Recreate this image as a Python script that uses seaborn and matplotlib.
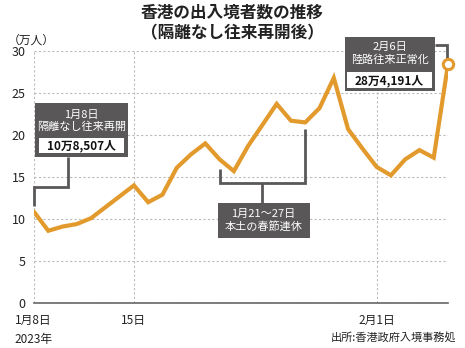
import matplotlib
matplotlib.use("Agg")
import matplotlib.pyplot as plt
import seaborn as sns
import pandas as pd
from matplotlib.patches import Rectangle

# ---- data ----
dates = ["2023-01-08", "2023-01-09", "2023-01-10", "2023-01-11", "2023-01-12",
         "2023-01-13", "2023-01-14", "2023-01-15", "2023-01-16", "2023-01-17",
         "2023-01-18", "2023-01-19", "2023-01-20", "2023-01-21", "2023-01-22",
         "2023-01-23", "2023-01-24", "2023-01-25", "2023-01-26", "2023-01-27",
         "2023-01-28", "2023-01-29", "2023-01-30", "2023-01-31", "2023-02-01",
         "2023-02-02", "2023-02-03", "2023-02-04", "2023-02-05", "2023-02-06"]
values = [10.85, 8.6, 9.1, 9.4, 10.1, 11.4, 12.7, 14.0, 12.0, 12.9,
          16.1, 17.7, 19.0, 17.1, 15.7, 18.7, 21.2, 23.7, 21.7, 21.5,
          23.2, 26.8, 20.7, 18.4, 16.2, 15.2, 17.1, 18.2, 17.3, 28.42]
tick_dates = ["2023-01-08", "2023-01-15", "2023-02-01"]
tick_labels = ["1月8日\n2023年", "15日", "2月1日"]
y_ticks = [0, 5, 10, 15, 20, 25, 30]

title = "香港の出入境者数の推移\n（隔離なし往来再開後）"
unit = "（万人）"
source = "出所:香港政府入境事務処"
ann1 = ("1月8日\n隔離なし往来再開", "10万8,507人")
ann2 = "1月21～27日\n本土の春節連休"
ann3 = ("2月6日\n陸路往来正常化", "28万4,191人")
holiday = ("2023-01-21", "2023-01-27")

# ---- prep ----
start = pd.Timestamp(dates[0])
df = pd.DataFrame({"date": pd.to_datetime(dates), "value": values})
df["day"] = (df["date"] - start).dt.days
tick_pos = [(pd.Timestamp(d) - start).days for d in tick_dates]
h0, h1 = [(pd.Timestamp(d) - start).days for d in holiday]

sns.set_theme(style="white")
plt.rcParams["font.family"] = ["Noto Sans CJK JP", "DejaVu Sans"]

ORANGE = "#E39A2C"
BOX = "#595757"
AX = "#666666"

W, H = 465, 348
fig = plt.figure(figsize=(W / 100, H / 100), dpi=100)
ax = fig.add_axes([34 / W, (H - 303) / H, 414 / W, 252 / H])

sns.lineplot(data=df, x="day", y="value", color=ORANGE, linewidth=3.0,
             ax=ax, zorder=5, solid_joinstyle="miter")
last = df.iloc[[-1]]
sns.scatterplot(data=last, x="day", y="value", s=55, facecolor="white",
                edgecolor=ORANGE, linewidth=2.2, ax=ax, zorder=7, clip_on=False)

ax.set_xlim(0, 29)
ax.set_ylim(0, 30)
ax.set_xticks(tick_pos)
ax.set_xticklabels(tick_labels, fontsize=8.5, multialignment="left", linespacing=1.55)
ax.set_yticks(y_ticks)
ax.set_yticklabels([str(v) for v in y_ticks], fontsize=9)
ax.set_xlabel("")
ax.set_ylabel("")
ax.tick_params(axis="x", length=0, pad=8, colors="#222222")
ax.tick_params(axis="y", length=4, width=1, color=AX, pad=2, colors="#222222")
ax.tick_params(axis="y", labelcolor="#222222")
for s in ["top", "right", "left"]:
    ax.spines[s].set_visible(False)
ax.spines["bottom"].set_color(AX)
ax.spines["bottom"].set_linewidth(1.2)
ax.grid(True, axis="both", color="#bbbbbb", linestyle=(0, (2, 2)), linewidth=0.8)
ax.set_axisbelow(True)

# ---- texts ----
fig.text(232.5 / W, 1 - 4 / H, title, ha="center", va="top", fontsize=12,
         fontweight="bold", linespacing=1.15, color="#222222")
fig.text(8 / W, 1 - 40 / H, unit, ha="left", va="center", fontsize=8.5, color="#222222")
fig.text(456 / W, 1 - 337 / H, source, ha="right", va="center", fontsize=8, color="#222222")

# ---- annotations (data coordinates) ----
def box(x0, x1, y0, y1, fc, z=8):
    ax.add_patch(Rectangle((x0, y0), x1 - x0, y1 - y0, facecolor=fc,
                           edgecolor="none", clip_on=False, zorder=z))

def conn(xs, ys):
    ax.plot(xs, ys, color=BOX, lw=2.0, clip_on=False, zorder=6,
            solid_capstyle="butt", solid_joinstyle="miter")

# annotation 1
conn([2.38, 2.38, 0.0, 0.0], [17.4, 13.8, 13.8, 11.5])
box(0.07, 6.57, 17.4, 23.8, BOX)
box(0.35, 6.3, 17.9, 19.6, "white", 9)
ax.text(3.32, 21.7, ann1[0], ha="center", va="center", fontsize=8,
        color="white", linespacing=1.25, zorder=10)
ax.text(3.32, 18.75, ann1[1], ha="center", va="center", fontsize=8.5,
        fontweight="bold", color="#111111", zorder=10)

# annotation 2 (bracket for holiday)
hm = (h0 + h1) / 2
conn([h0, h0, h1, h1], [15.95, 14.29, 14.29, 20.7])
conn([hm, hm], [14.29, 11.9])
box(12.87, 19.3, 7.74, 11.9, BOX)
ax.text(16.08, 9.85, ann2, ha="center", va="center", fontsize=8,
        color="white", linespacing=1.25, zorder=10)

# annotation 3
conn([28.1, 28.9, 28.9], [30.7, 30.7, 29.0])
box(21.75, 28.1, 25.24, 31.67, BOX)
box(21.9, 27.9, 25.55, 27.45, "white", 9)
ax.text(24.9, 29.7, ann3[0], ha="center", va="center", fontsize=8,
        color="white", linespacing=1.25, zorder=10)
ax.text(24.9, 26.5, ann3[1], ha="center", va="center", fontsize=8.5,
        fontweight="bold", color="#111111", zorder=10)

fig.savefig("out.png", dpi=100)
